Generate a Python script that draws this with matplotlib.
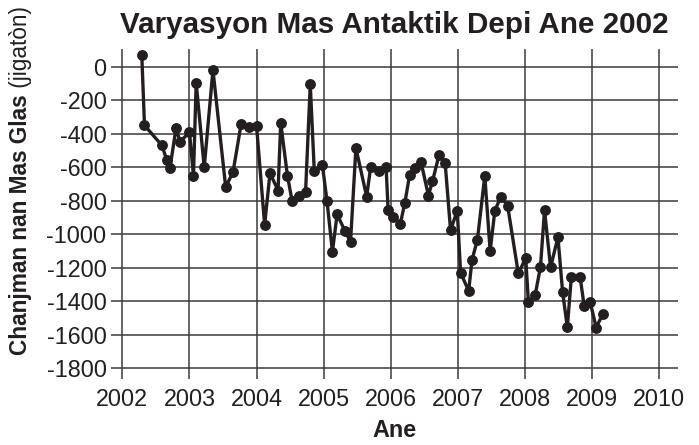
import matplotlib
matplotlib.use("Agg")
import matplotlib.pyplot as plt

# ---- data ----
years = [2002.29, 2002.33, 2002.59, 2002.66, 2002.71, 2002.80, 2002.86, 2003.00,
         2003.06, 2003.10, 2003.22, 2003.35, 2003.54, 2003.65, 2003.77, 2003.89,
         2004.00, 2004.12, 2004.20, 2004.32, 2004.36, 2004.46, 2004.53, 2004.63,
         2004.73, 2004.80, 2004.86, 2004.98, 2005.05, 2005.13, 2005.20, 2005.32,
         2005.40, 2005.48, 2005.64, 2005.70, 2005.82, 2005.93, 2005.96, 2006.04,
         2006.14, 2006.21, 2006.28, 2006.36, 2006.45, 2006.56, 2006.62, 2006.72,
         2006.81, 2006.89, 2006.99, 2007.04, 2007.16, 2007.21, 2007.29, 2007.40,
         2007.48, 2007.55, 2007.64, 2007.74, 2007.90, 2008.01, 2008.05, 2008.15,
         2008.23, 2008.29, 2008.38, 2008.49, 2008.56, 2008.63, 2008.69, 2008.82,
         2008.88, 2008.97, 2009.06, 2009.16]
mass = [69, -350, -470, -555, -605, -366, -449, -390,
        -651, -96, -601, -20, -719, -627, -342, -362,
        -355, -944, -635, -739, -336, -651, -803, -771,
        -747, -106, -625, -585, -803, -1104, -881, -983,
        -1045, -485, -775, -599, -625, -601, -855, -895,
        -941, -811, -646, -603, -569, -769, -685, -525,
        -577, -976, -859, -1230, -1338, -1152, -1034, -651,
        -1100, -859, -775, -829, -1234, -1142, -1404, -1364,
        -1194, -855, -1197, -1018, -1346, -1555, -1254, -1254,
        -1426, -1404, -1557, -1474]

x_ticks = [2002, 2003, 2004, 2005, 2006, 2007, 2008, 2009, 2010]
y_ticks = [0, -200, -400, -600, -800, -1000, -1200, -1400, -1600, -1800]

title = "Varyasyon Mas Antaktik Depi Ane 2002"
xlabel = "Ane"
ylabel_bold = "Chanjman nan Mas Glas"
ylabel_unit = " (jigatòn)"

plt.rcParams["font.family"] = ["Liberation Sans", "DejaVu Sans"]
plt.rcParams["axes.unicode_minus"] = False   # plain hyphen like the original

fig = plt.figure(figsize=(6.99, 4.45), dpi=100)
ax = fig.add_axes([0.1584, 0.1476, 0.8111, 0.7423])

ax.set_xlim(2001.827, 2010.274)
ax.set_ylim(-1865.6, 105.6)

# grid lines that run a bit past the last tick, no frame
for s in ax.spines.values():
    s.set_visible(False)
ax.set_xticks(x_ticks)
ax.set_yticks(y_ticks)
ax.grid(True, color="#3a3a3a", linewidth=1.1)
ax.set_axisbelow(True)
ax.tick_params(length=0, labelsize=16.8, colors="#231f20")
ax.tick_params(axis="x", pad=6.5)
ax.tick_params(axis="y", pad=3)

ax.plot(years, mass, color="#231f20", linewidth=2.4, marker="o",
        markersize=6.8, zorder=3)

fig.text(0.564, 0.925, title, fontsize=21.3, fontweight="bold",
         color="#231f20", ha="center", va="baseline")
ax.set_xlabel(xlabel, fontsize=16.8, fontweight="bold", color="#231f20", labelpad=5.5)

# y label: bold part + regular unit
t1 = fig.text(0.029, 0.202, ylabel_bold, rotation=90, fontsize=16.3,
              fontweight="bold", color="#231f20", ha="center", va="bottom")
ax.annotate(ylabel_unit, xy=(0.5, 1.0), xycoords=t1, rotation=90,
            fontsize=16.3, color="#231f20", ha="center", va="bottom")

fig.savefig("out.png", dpi=100)
